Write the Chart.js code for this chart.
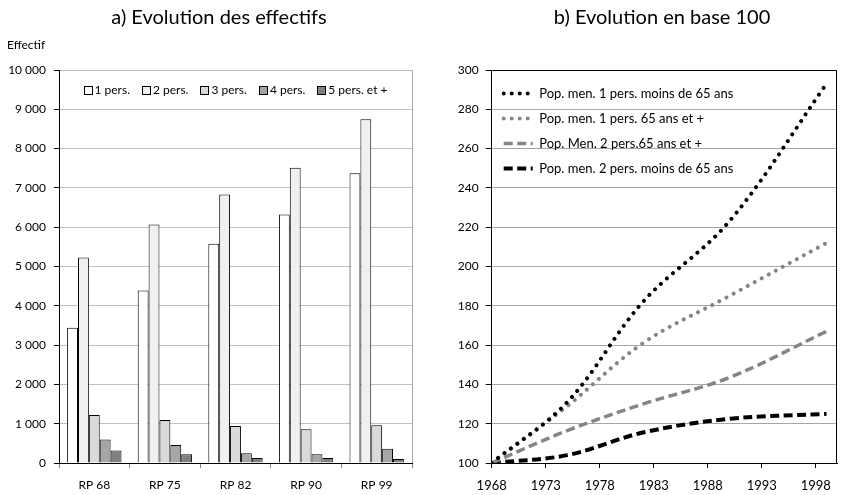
<!DOCTYPE html>
<html>
<head>
<meta charset="utf-8">
<script src="https://cdn.jsdelivr.net/npm/chart.js@4.4.1/dist/chart.umd.min.js"></script>
<style>
    body { margin: 0; background: #fff; }
    #wrap { position: relative; width: 841px; height: 495px; overflow: hidden; }
    #leftChart { position: absolute; left: 0; top: 0; }
    #rightChart { position: absolute; left: 420px; top: 0; }
</style>
</head>
<body>
<div id="wrap">
    <canvas id="leftChart" width="420" height="495"></canvas>
    <canvas id="rightChart" width="421" height="495"></canvas>
</div>
<script>
// a) Effectifs par taille de ménage
const censusLabels = ['RP 68', 'RP 75', 'RP 82', 'RP 90', 'RP 99'];
const pers1 = [3440, 4390, 5580, 6325, 7370];
const pers2 = [5230, 6070, 6835, 7515, 8745];
const pers3 = [1220, 1095, 940, 860, 960];
const pers4 = [600, 455, 245, 220, 360];
const pers5 = [320, 220, 130, 130, 100];

// b) Base 100 (1968)
const censusYears = [1968, 1975, 1982, 1990, 1999];
const men1Under65 = [100, 131, 182, 223, 293];
const men1Over65 = [100, 129, 161, 185, 212];
const men2Over65 = [100, 116.5, 130, 143.5, 167];
const men2Under65 = [100, 104, 115.5, 122.5, 125];
const yearTicks = [1968, 1973, 1978, 1983, 1988, 1993, 1998];

const FONT = 'Lato';
const colors = {
    text: '#000000',
    gridLeft: '#c0c0c0',
    gridRight: '#a6a6a6',
    black: '#000000',
    gray: '#858585'
};

Chart.defaults.font.family = FONT;
Chart.defaults.color = colors.text;

function spaced(v) {
    return String(v).replace(/\B(?=(\d{3})+(?!\d))/g, ' ');
}

// move the title sideways after layout (centre it like the original)
const titleShift = {
    id: 'titleShift',
    afterLayout(chart, args, opts) {
        const t = chart.titleBlock;
        if (t && opts.dx) {
            t.left += opts.dx;
            t.right += opts.dx;
        }
        // chartArea legends get their top reset to 0, put it back
        const lg = chart.legend;
        if (lg && lg.options.position === 'chartArea') {
            lg.top = chart.chartArea.top;
            lg.bottom = chart.chartArea.bottom;
        }
    }
};

// legend + "Effectif" label for the bar chart
const barExtras = {
    id: 'barExtras',
    beforeDatasetsDraw(chart) {
        const { ctx, chartArea } = chart;
        ctx.save();
        ctx.strokeStyle = '#a6a6a6';
        ctx.lineWidth = 1;
        ctx.beginPath();
        ctx.moveTo(Math.round(chartArea.right) + 0.5, chartArea.top);
        ctx.lineTo(Math.round(chartArea.right) + 0.5, chartArea.bottom);
        ctx.stroke();
        ctx.restore();
    },
    afterDraw(chart) {
        const { ctx, chartArea } = chart;
        ctx.save();
        ctx.font = '12px ' + FONT;
        ctx.fillStyle = colors.text;
        ctx.textBaseline = 'middle';
        ctx.textAlign = 'left';
        ctx.fillText('Effectif', 7, 45);

        const box = 8, gap = 3, space = 12;
        const items = chart.data.datasets.map(d => ({ text: d.label, color: d.backgroundColor }));
        let total = 0;
        items.forEach((it, i) => {
            it.w = ctx.measureText(it.text).width;
            total += box + gap + it.w + (i ? space : 0);
        });
        let x = (chartArea.left + chartArea.right) / 2 - total / 2;
        const y = chartArea.top + 20;
        items.forEach(it => {
            ctx.fillStyle = it.color;
            ctx.fillRect(Math.round(x) + 0.5, Math.round(y - box / 2) + 0.5, box, box);
            ctx.strokeStyle = '#000';
            ctx.lineWidth = 1;
            ctx.strokeRect(Math.round(x) + 0.5, Math.round(y - box / 2) + 0.5, box, box);
            ctx.fillStyle = colors.text;
            ctx.fillText(it.text, x + box + gap, y);
            x += box + gap + it.w + space;
        });
        ctx.restore();
    }
};

// black frame round the plot of the line chart
const lineFrame = {
    id: 'lineFrame',
    beforeDatasetsDraw(chart) {
        const { ctx, chartArea } = chart;
        ctx.save();
        ctx.strokeStyle = colors.black;
        ctx.lineWidth = 1;
        ctx.beginPath();
        const l = Math.round(chartArea.left) + 0.5, r = Math.round(chartArea.right) - 0.5;
        const t = Math.round(chartArea.top) + 0.5;
        ctx.moveTo(l, t);
        ctx.lineTo(r, t);
        ctx.lineTo(r, chartArea.bottom);
        ctx.stroke();
        ctx.restore();
    }
};

// 1. Bar chart
new Chart(document.getElementById('leftChart'), {
    type: 'bar',
    data: {
        labels: censusLabels,
        datasets: [
            { label: '1 pers.', data: pers1, backgroundColor: '#ffffff' },
            { label: '2 pers.', data: pers2, backgroundColor: '#f0f0f0' },
            { label: '3 pers.', data: pers3, backgroundColor: '#d9d9d9' },
            { label: '4 pers.', data: pers4, backgroundColor: '#a6a6a6' },
            { label: '5 pers. et +', data: pers5, backgroundColor: '#808080' }
        ]
    },
    options: {
        responsive: false,
        animation: false,
        layout: { padding: { left: 7, right: 8, top: 0, bottom: 0 } },
        datasets: {
            bar: { categoryPercentage: 0.77, barPercentage: 1, borderWidth: 1, borderColor: '#000' }
        },
        plugins: {
            legend: { display: false },
            tooltip: { enabled: false },
            titleShift: { dx: 9.5 },
            title: {
                display: true,
                text: 'a) Evolution des effectifs',
                color: colors.text,
                font: { size: 20, weight: 'normal' },
                padding: { top: 6, bottom: 40 }
            }
        },
        scales: {
            x: {
                grid: { offset: true, drawOnChartArea: false, tickLength: 5, color: '#808080' },
                border: { color: colors.black },
                ticks: { padding: 10, font: { size: 12 }, color: colors.text },
                afterFit: s => { s.height = 32; }
            },
            y: {
                min: 0,
                max: 10000,
                ticks: { stepSize: 1000, padding: 8, font: { size: 12 }, color: colors.text, callback: v => spaced(v) },
                grid: { color: colors.gridLeft, tickColor: colors.black, tickLength: 5 },
                border: { color: colors.black },
                afterFit: s => { s.width = 52; }
            }
        }
    },
    plugins: [barExtras, titleShift]
});

// 2. Line chart
const toPoints = arr => censusYears.map((x, i) => ({ x, y: arr[i] }));

new Chart(document.getElementById('rightChart'), {
    type: 'line',
    data: {
        datasets: [{
            label: 'Pop. men. 1 pers. moins de 65 ans',
            data: toPoints(men1Under65),
            borderColor: colors.black,
            borderWidth: 4,
            borderDash: [0.01, 8],
            borderCapStyle: 'round'
        }, {
            label: 'Pop. men. 1 pers. 65 ans et +',
            data: toPoints(men1Over65),
            borderColor: colors.gray,
            borderWidth: 4,
            borderDash: [0.01, 8],
            borderCapStyle: 'round'
        }, {
            label: 'Pop. Men. 2 pers.65 ans et +',
            data: toPoints(men2Over65),
            borderColor: colors.gray,
            borderWidth: 3.5,
            borderDash: [9, 4.5]
        }, {
            label: 'Pop. men. 2 pers. moins de 65 ans',
            data: toPoints(men2Under65),
            borderColor: colors.black,
            borderWidth: 4,
            borderDash: [9, 4.5]
        }]
    },
    options: {
        responsive: false,
        animation: false,
        layout: { padding: { left: 35, right: 2.7, top: 0, bottom: 0 } },
        elements: {
            point: { radius: 0 },
            line: { tension: 0.35, fill: false }
        },
        plugins: {
            tooltip: { enabled: false },
            titleShift: { dx: 15.4 },
            title: {
                display: true,
                text: 'b) Evolution en base 100',
                color: colors.text,
                font: { size: 20, weight: 'normal' },
                padding: { top: 6, bottom: 40 }
            },
            legend: {
                position: 'chartArea',
                align: 'start',
                title: { display: true, text: '', padding: 0, font: { size: 5, lineHeight: 1 } },
                labels: {
                    usePointStyle: true,
                    pointStyleWidth: 29,
                    padding: 12,
                    color: colors.text,
                    font: { size: 13 },
                    generateLabels: chart => chart.data.datasets.map((d, i) => ({
                        text: d.label,
                        fillStyle: 'rgba(0,0,0,0)',
                        strokeStyle: d.borderColor,
                        lineWidth: d.borderWidth,
                        lineDash: d.borderDash,
                        lineCap: d.borderCapStyle || 'butt',
                        pointStyle: 'line',
                        fontColor: colors.text,
                        hidden: false,
                        datasetIndex: i
                    }))
                }
            }
        },
        scales: {
            x: {
                type: 'linear',
                min: 1968,
                max: 2000,
                afterBuildTicks: s => { s.ticks = yearTicks.map(v => ({ value: v })); },
                ticks: { padding: 10, font: { size: 13 }, color: colors.text, callback: v => String(v) },
                grid: { drawOnChartArea: false, tickLength: 5, color: colors.black },
                border: { color: colors.black },
                afterFit: s => { s.height = 32; }
            },
            y: {
                min: 100,
                max: 300,
                ticks: { stepSize: 20, padding: 7, font: { size: 12 }, color: colors.text },
                grid: { color: colors.gridRight, tickColor: colors.black, tickLength: 6 },
                border: { color: colors.black },
                afterFit: s => { s.width = 36.7; }
            }
        }
    },
    plugins: [lineFrame, titleShift]
});
</script>
</body>
</html>
